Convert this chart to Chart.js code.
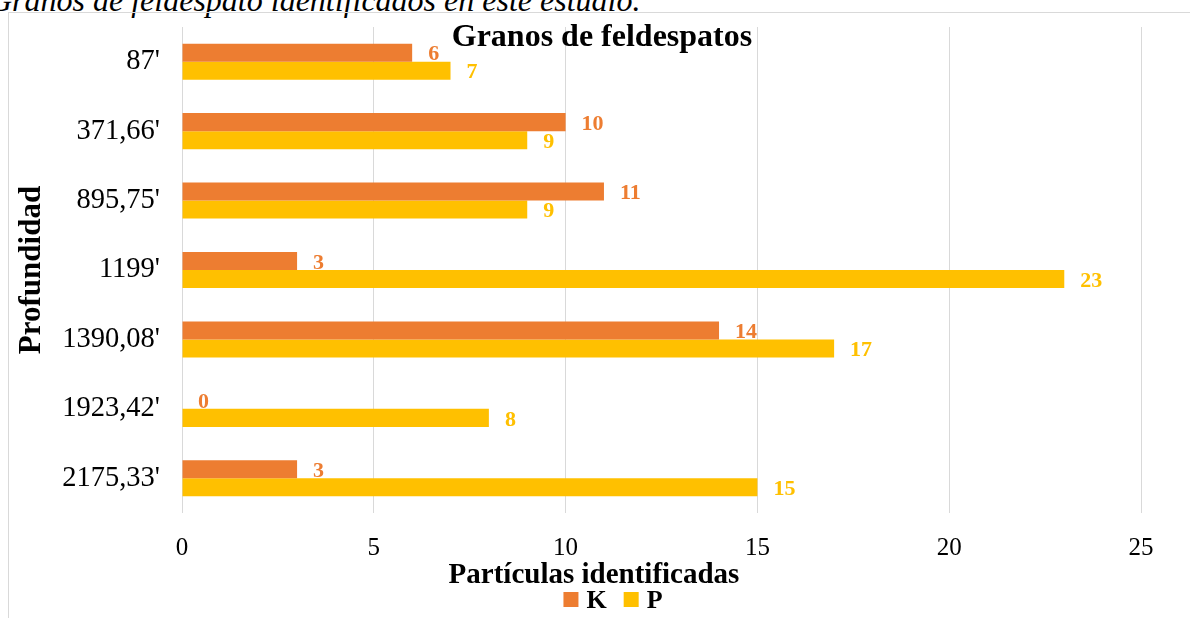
<!DOCTYPE html>
<html>
<head>
<meta charset="utf-8">
<title>Granos de feldespatos</title>
<script src="https://cdn.jsdelivr.net/npm/chart.js@4.4.1/dist/chart.umd.min.js"></script>
<style>
 html, body { margin: 0; padding: 0; background: #fff; overflow: hidden; }
 body { width: 1190px; height: 618px; position: relative; }
 #caption {
  position: absolute; left: -11px; top: -15px;
  font: italic 32px/31px "Liberation Serif", "Times New Roman", serif;
  white-space: nowrap; color: #000;
 }
 #frame {
  position: absolute; left: 8px; top: 12px; width: 1300px; height: 700px;
  border: 1px solid #d9d9d9;
 }
 #feldspar-canvas { position: absolute; left: 0; top: 0; }
</style>
</head>
<body>
<div id="caption">Granos de feldespato identificados en este estudio.</div>
<div id="frame"></div>
<canvas id="feldspar-canvas" width="1190" height="618"></canvas>
<script>
var depthLabels = ["87'", "371,66'", "895,75'", "1199'", "1390,08'", "1923,42'", "2175,33'"];
var kGrains = [6, 10, 11, 3, 14, 0, 3];
var pGrains = [7, 9, 9, 23, 17, 8, 15];
var countTicks = [0, 5, 10, 15, 20, 25];

var serif = '"Liberation Serif", "Times New Roman", serif';
var orange = "#ED7D31";
var yellow = "#FFC000";

// value labels just past the end of each bar, in the bar's colour
var barValueLabels = {
 id: "barValueLabels",
 afterDatasetsDraw: function (chart) {
  var ctx = chart.ctx;
  ctx.save();
  ctx.font = "bold 22px " + serif;
  ctx.textAlign = "left";
  ctx.textBaseline = "middle";
  chart.data.datasets.forEach(function (ds, i) {
   ctx.fillStyle = ds.backgroundColor;
   chart.getDatasetMeta(i).data.forEach(function (bar, j) {
    ctx.fillText(String(ds.data[j]), bar.x + 16, bar.y + 2);
   });
  });
  ctx.restore();
 },
};

// chart title, x axis title and legend are laid out over the whole frame,
// not over the plot area, so they are drawn here
var frameTexts = {
 id: "frameTexts",
 afterDraw: function (chart) {
  var ctx = chart.ctx;
  ctx.save();
  ctx.fillStyle = "#000";
  ctx.textAlign = "center";
  ctx.textBaseline = "alphabetic";

  ctx.font = "bold 32px " + serif;
  ctx.fillText("Granos de feldespatos", 602, 46);

  ctx.font = "bold 29px " + serif;
  ctx.fillText("Partículas identificadas", 594, 583);

  ctx.font = "bold 26px " + serif;
  ctx.textAlign = "left";
  var box = 15, gap = 8, spacing = 17;
  var items = chart.data.datasets.map(function (ds) {
   return { label: ds.label, color: ds.backgroundColor, w: ctx.measureText(ds.label).width };
  });
  var total = items.reduce(function (s, it) { return s + box + gap + it.w; }, 0) + spacing * (items.length - 1);
  var x = 613 - total / 2;
  items.forEach(function (it) {
   ctx.fillStyle = it.color;
   ctx.fillRect(x, 592, box, box);
   ctx.fillStyle = "#000";
   ctx.fillText(it.label, x + box + gap, 608);
   x += box + gap + it.w + spacing;
  });
  ctx.restore();
 },
};

new Chart(document.getElementById("feldspar-canvas"), {
 type: "bar",
 data: {
  labels: depthLabels,
  datasets: [
   { label: "K", data: kGrains, backgroundColor: orange, borderWidth: 0 },
   { label: "P", data: pGrains, backgroundColor: yellow, borderWidth: 0 },
  ],
 },
 options: {
  indexAxis: "y",
  responsive: false,
  devicePixelRatio: 1,
  animation: false,
  datasets: {
   bar: { categoryPercentage: 0.52, barPercentage: 1 },
  },
  layout: { padding: { top: 27, right: 49, bottom: 0, left: 0 } },
  scales: {
   x: {
    min: 0,
    max: 25,
    afterBuildTicks: function (axis) {
     axis.ticks = countTicks.map(function (v) { return { value: v }; });
    },
    afterFit: function (axis) { axis.height = 105; },
    grid: { color: "#d9d9d9", lineWidth: 1, drawTicks: false },
    border: { display: false },
    ticks: { font: { family: serif, size: 25 }, color: "#000", padding: 20 },
   },
   y: {
    afterFit: function (axis) {
     axis.width = 182;
     // keep the tick padding from pushing the plot top down
     axis.paddingTop = 0;
     axis.paddingBottom = 0;
    },
    grid: { display: false, drawTicks: false },
    border: { display: false },
    ticks: { font: { family: serif, size: 28.5 }, color: "#000", padding: 22 },
    title: {
     display: true,
     text: "Profundidad",
     color: "#000",
     font: { family: serif, size: 31, weight: "bold", lineHeight: 1.2 },
     padding: { top: 13, bottom: 0 },
    },
   },
  },
  plugins: {
   legend: { display: false },
   title: { display: false },
   tooltip: { enabled: false },
  },
 },
 plugins: [barValueLabels, frameTexts],
});
</script>
</body>
</html>
